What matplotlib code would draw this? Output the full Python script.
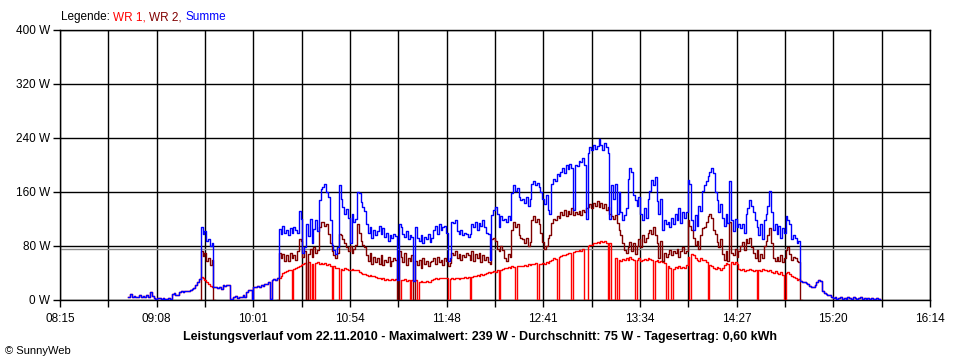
import numpy as np
import matplotlib
matplotlib.use("Agg")
import matplotlib.pyplot as plt

nan = np.nan

# ---- data (1-minute samples, first sample at 08:50) ----
start_minute = 8 * 60 + 50
x_min, x_max = 8 * 60 + 15, 16 * 60 + 14
tick_labels = ["08:15", "09:08", "10:01", "10:54", "11:48", "12:41",
               "13:34", "14:27", "15:20", "16:14"]
y_ticks = [0, 80, 160, 240, 320, 400]
average_w = 75

summe_rows = [
    [nan, nan, nan, 4, 9, 5, 6, 4, 5, 7],          # 08:50
    [5, 6, 4, 7, 5, 12, 6, 3, 2, 3],               # 09:00
    [3, 2, 3, 2, 1, 3, 2, 9, 11, 8],               # 09:10
    [8, 12, 13, 12, 13, 14, 13, 15, 16, 18],       # 09:20
    [22, 27, 31, 108, 98, 102, 88, 90, 80, 84],    # 09:30
    [20, 19, 18, 19, 17, 22, 21, 22, 22, 2],       # 09:40
    [1, 4, 6, 3, 5, 4, 7, 4, 12, 15],              # 09:50
    [15, 2, 19, 20, 21, 20, 22, 21, 23, 24],       # 10:00
    [26, 2, 30, 31, 29, 32, 105, 98, 110, 100],    # 10:10
    [104, 97, 106, 100, 108, 103, 99, 132, 120, 70],   # 10:20
    [78, 112, 95, 120, 85, 105, 118, 102, 148, 165],   # 10:30
    [168, 172, 160, 152, 118, 82, 74, 68, 78, 170],    # 10:40
    [150, 138, 128, 135, 122, 85, 128, 115, 120, 160], # 10:50
    [158, 145, 138, 132, 112, 100, 108, 92, 104, 96],  # 11:00
    [102, 110, 98, 106, 94, 100, 88, 96, 92, 98],      # 11:10
    [95, 30, 112, 108, 98, 94, 102, 90, 97, 93],       # 11:20
    [28, 108, 92, 88, 96, 84, 94, 90, 98, 86],         # 11:30
    [92, 104, 110, 98, 112, 104, 108, 110, 100, 58],   # 11:40
    [62, 116, 114, 118, 102, 98, 104, 96, 100, 98],    # 11:50
    [94, 98, 112, 108, 116, 104, 114, 110, 118, 108],  # 12:00
    [100, 98, 60, 126, 134, 138, 128, 108, 124, 118],  # 12:10
    [120, 116, 124, 118, 158, 170, 162, 166, 152, 148],  # 12:20
    [150, 144, 152, 140, 150, 172, 176, 170, 174, 168],  # 12:30
    [160, 150, 142, 156, 134, 128, 172, 180, 176, 186],  # 12:40
    [184, 190, 196, 188, 200, 194, 202, 196, 134, 200],  # 12:50
    [198, 206, 204, 210, 200, 120, 218, 226, 222, 230],  # 13:00
    [224, 228, 239, 230, 222, 232, 226, 218, 120, 170],  # 13:10
    [150, 172, 128, 160, 130, 118, 126, 136, 180, 196],  # 13:20
    [190, 156, 148, 140, 152, 128, 118, 136, 122, 150],  # 13:30
    [162, 178, 170, 182, 146, 128, 150, 104, 118, 112],  # 13:40
    [116, 108, 122, 112, 128, 118, 136, 114, 130, 122],  # 13:50
    [130, 178, 172, 118, 104, 126, 110, 140, 132, 162],  # 14:00
    [170, 176, 184, 190, 196, 188, 160, 148, 130, 142],  # 14:10
    [122, 110, 128, 114, 176, 118, 102, 120, 108, 112],  # 14:20
    [106, 112, 100, 128, 136, 148, 140, 130, 118, 108],  # 14:30
    [96, 112, 90, 118, 128, 140, 162, 130, 104, 112],    # 14:40
    [98, 110, 92, 106, 100, 124, 118, 112, 90, 96],      # 14:50
    [92, 84, 88, 28, 27, 26, 25, 24, 21, 20],            # 15:00
    [20, 22, 26, 29, 28, 13, 10, 9, 8, 7],               # 15:10
    [5, 3, 4, 2, 3, 5, 2, 3, 2, 4],                      # 15:20
    [3, 2, 4, 3, 2, 3, 4, 2, 3, 2],                      # 15:30
    [3, 2, 3, 2, 2, 3, 2, nan, nan, nan],                # 15:40
]

wr2_rows = [
    [nan] * 10,                                    # 08:50
    [nan] * 10,                                    # 09:00
    [nan] * 10,                                    # 09:10
    [nan] * 10,                                    # 09:20
    [nan, nan, 0, 72, 65, 70, 58, 62, 52, 60],     # 09:30
    [0] + [nan] * 9,                               # 09:40
    [nan] * 10,                                    # 09:50
    [nan] * 10,                                    # 10:00
    [nan, nan, nan, nan, nan, 0, 70, 62, 68, 58],  # 10:10
    [66, 58, 70, 62, 67, 60, 72, 90, 88, 64],      # 10:20
    [72, 0, 68, 75, 64, 78, 70, 74, 108, 115],     # 10:30
    [116, 110, 112, 98, 84, 72, 66, 62, 70, 98],   # 10:40
    [96, 90, 84, 78, 72, 80, 70, 76, 82, 112],     # 10:50
    [100, 88, 82, 78, 66, 58, 70, 54, 64, 56],     # 11:00
    [62, 54, 66, 52, 60, 56, 64, 50, 58, 62],      # 11:10
    [60, 0, 72, 64, 56, 70, 52, 62, 58, 66],       # 11:20
    [0, 58, 52, 60, 48, 62, 54, 58, 50, 56],       # 11:30
    [58, 62, 54, 64, 56, 60, 52, 62, 58, 50],      # 11:40
    [55, 70, 66, 72, 62, 68, 60, 66, 64, 70],      # 11:50
    [66, 60, 72, 58, 68, 62, 70, 56, 66, 60],      # 12:00
    [64, 56, 54, 90, 92, 88, 76, 72, 80, 74],      # 12:10
    [62, 58, 68, 64, 104, 116, 108, 112, 96, 92],  # 12:20
    [90, 84, 92, 80, 86, 118, 124, 116, 120, 112], # 12:30
    [100, 86, 76, 80, 92, 96, 114, 120, 118, 124], # 12:40
    [122, 130, 126, 134, 124, 132, 128, 136, 126, 130],  # 12:50
    [128, 132, 126, 134, 130, 136, 138, 142, 136, 144],  # 13:00
    [140, 146, 138, 144, 136, 142, 134, 138, 128, 124],  # 13:10
    [120, 126, 114, 104, 96, 84, 74, 70, 78, 86],  # 13:20
    [72, 84, 68, 80, 90, 78, 96, 86, 92, 100],     # 13:30
    [104, 98, 108, 96, 84, 62, 88, 58, 70, 64],    # 13:40
    [68, 74, 66, 72, 70, 76, 64, 72, 78, 70],      # 13:50
    [72, 118, 110, 104, 92, 82, 88, 76, 96, 106],  # 14:00
    [108, 116, 124, 128, 122, 104, 98, 86, 78, 90],  # 14:10
    [68, 60, 72, 58, 116, 70, 66, 76, 64, 72],     # 14:20
    [80, 86, 74, 90, 84, 92, 78, 70, 62, 74],      # 14:30
    [58, 68, 62, 80, 88, 96, 106, 84, 62, 58],     # 14:40
    [64, 58, 66, 56, 62, 74, 78, 68, 60, 64],      # 14:50
    [62, 58, 56, 0] + [nan] * 6,                   # 15:00
    [nan] * 10,                                    # 15:10
    [nan] * 10,                                    # 15:20
    [nan] * 10,                                    # 15:30
    [nan] * 10,                                    # 15:40
]

wr1_rows = [
    [nan, nan, nan, 4, 9, 5, 6, 4, 5, 7],          # 08:50
    [5, 6, 4, 7, 5, 12, 6, 3, 2, 3],               # 09:00
    [3, 2, 3, 2, 1, 3, 2, 9, 11, 8],               # 09:10
    [8, 12, 13, 12, 13, 14, 13, 15, 16, 18],       # 09:20
    [22, 27, 31, 34, 32, 30, 27, 24, 21, 19],      # 09:30
    [20, 19, 18, 19, 17, 22, 21, 22, 22, 2],       # 09:40
    [1, 4, 6, 3, 5, 4, 7, 4, 12, 15],              # 09:50
    [15, 2, 19, 20, 21, 20, 22, 21, 23, 24],       # 10:00
    [26, 2, 30, 31, 29, 32, 33, 36, 40, 42],       # 10:10
    [43, 44, 45, 0, 46, 47, 49, 50, 52, 54],       # 10:20
    [55, 0, 56, 0, 54, 0, 55, 56, 54, 55],         # 10:30
    [54, 55, 52, 53, 51, 0, 50, 48, 47, 0],        # 10:40
    [46, 45, 47, 46, 44, 45, 46, 44, 45, 44],      # 10:50
    [42, 40, 39, 38, 37, 36, 37, 35, 36, 34],      # 11:00
    [33, 32, 31, 32, 30, 31, 29, 30, 31, 30],      # 11:10
    [31, 30, 0, 30, 29, 31, 28, 30, 0, 29],        # 11:20
    [28, 29, 0, 27, 28, 26, 27, 28, 26, 27],       # 11:30
    [30, 31, 32, 31, 33, 32, 33, 32, 33, 0],       # 11:40
    [31, 32, 31, 33, 32, 31, 33, 32, 34, 33],      # 11:50
    [34, 0, 34, 36, 35, 37, 36, 38, 37, 38],       # 12:00
    [40, 41, 40, 42, 43, 42, 44, 0, 45, 46],       # 12:10
    [47, 48, 49, 48, 50, 49, 0, 50, 51, 50],       # 12:20
    [51, 52, 50, 53, 52, 54, 53, 55, 0, 54],       # 12:30
    [54, 55, 53, 56, 55, 58, 60, 62, 61, 0],       # 12:40
    [64, 65, 67, 66, 68, 70, 69, 0, 71, 72],       # 12:50
    [72, 74, 73, 75, 0, 0, 80, 82, 81, 84],        # 13:00
    [84, 86, 85, 88, 86, 87, 85, 0, 84, 0],        # 13:10
    [0, 62, 0, 60, 58, 61, 59, 62, 60, 63],        # 13:20
    [61, 59, 0, 60, 62, 58, 60, 61, 59, 62],       # 13:30
    [61, 60, 0, 58, 59, 57, 58, 56, 55, 0],        # 13:40
    [50, 48, 0, 46, 49, 47, 50, 48, 49, 47],       # 13:50
    [52, 64, 0, 68, 66, 62, 60, 58, 62, 60],       # 14:00
    [60, 56, 0, 52, 50, 48, 46, 49, 47, 45],       # 14:10
    [48, 52, 55, 54, 0, 56, 53, 57, 54, 46],       # 14:20
    [44, 46, 43, 45, 44, 46, 45, 43, 44, 0],       # 14:30
    [45, 43, 46, 44, 45, 43, 44, 42, 40, 43],      # 14:40
    [40, 38, 41, 37, 0, 40, 42, 38, 36, 34],       # 14:50
    [32, 30, 31, 28, 27, 26, 25, 24, 21, 20],      # 15:00
    [20, 22, 26, 29, 28, 13, 10, 9, 8, 7],         # 15:10
    [5, 3, 4, 2, 3, 5, 2, 3, 2, 4],                # 15:20
    [3, 2, 4, 3, 2, 3, 4, 2, 3, 2],                # 15:30
    [3, 2, 3, 2, 2, 3, 2, nan, nan, nan],          # 15:40
]

title = ("Leistungsverlauf vom 22.11.2010 - Maximalwert: 239 W - "
         "Durchschnitt: 75 W - Tagesertrag: 0,60 kWh")

# ---- build ----
summe = np.array(sum(summe_rows, []), dtype=float)
wr1 = np.array(sum(wr1_rows, []), dtype=float)
wr2 = np.array(sum(wr2_rows, []), dtype=float)
minutes = start_minute + np.arange(len(summe))

plt.rcParams["font.family"] = ["Liberation Sans", "DejaVu Sans"]

fig = plt.figure(figsize=(9.6, 3.6), dpi=100)
ax = fig.add_axes([60 / 960, 60 / 360, 870 / 960, 270 / 360])

major = np.linspace(x_min, x_max, len(tick_labels))
minor = (major[:-1] + major[1:]) / 2
ax.set_xlim(x_min, x_max)
ax.set_ylim(y_ticks[0], y_ticks[-1])
ax.set_xticks(major)
ax.set_xticklabels(tick_labels)
ax.set_xticks(minor, minor=True)
ax.set_yticks(y_ticks)
ax.set_yticklabels([f"{v} W" for v in y_ticks])

ax.set_axisbelow(True)
ax.grid(True, which="both", axis="x", color="black", lw=1.0)
ax.grid(True, which="major", axis="y", color="black", lw=1.0)
for s in ax.spines.values():
    s.set_color("black")
    s.set_linewidth(1.0)
ax.tick_params(which="both", direction="out", length=5, width=1.0,
               color="black", labelsize=8.5)
ax.tick_params(axis="x", pad=4)
ax.tick_params(axis="y", pad=2)

ax.axhline(average_w, color="#8c8c8c", lw=1.0, zorder=1.5)

ax.plot(minutes, wr1, color="#ff0000", lw=1.0, drawstyle="steps-mid", zorder=3)
ax.plot(minutes, wr2, color="#800000", lw=1.0, drawstyle="steps-mid", zorder=4)
ax.plot(minutes, summe, color="#0000ff", lw=1.0, drawstyle="steps-mid", zorder=5)

fig.text(0.5, (360 - 337) / 360, title, ha="center", va="center",
         fontsize=9, fontweight="bold")
fig.text(5 / 960, (360 - 351) / 360, "\u00a9 SunnyWeb", ha="left",
         va="center", fontsize=8)

# legend line built from pieces
fig.canvas.draw()
renderer = fig.canvas.get_renderer()
x_px = 61
y_fig = (360 - 17) / 360
for txt, col in [("Legende: ", "black"), ("WR 1, ", "#ff0000"),
                 ("WR 2, ", "#800000"), ("Summe", "#0000ff")]:
    t = fig.text(x_px / 960, y_fig, txt, ha="left", va="center",
                 fontsize=8.5, color=col)
    bb = t.get_window_extent(renderer)
    x_px += bb.width

fig.savefig("out.png", dpi=100)
